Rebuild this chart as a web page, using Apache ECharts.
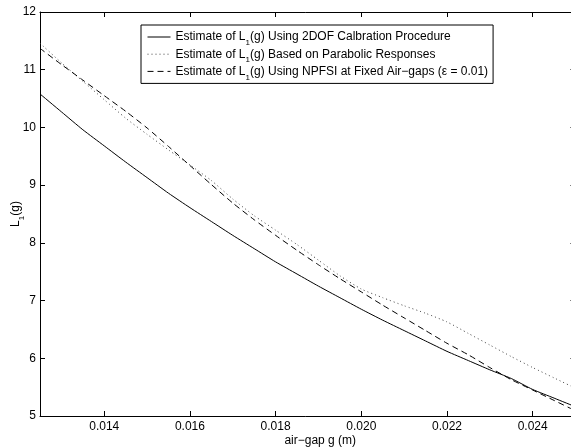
<!DOCTYPE html>
<html>
<head>
<meta charset="utf-8">
<script src="https://cdn.jsdelivr.net/npm/echarts@6/dist/echarts.min.js"></script>
<style>
html,body{margin:0;padding:0;background:#fff;}
#chart{width:571px;height:447px;}
</style>
</head>
<body>
<div id="chart"></div>
<script>
var xValues = [0.0125,0.0130,0.0135,0.0140,0.0145,0.0150,0.0155,0.0160,0.0165,0.0170,0.0175,0.0180,0.0185,0.0190,0.0195,0.0200,0.0205,0.0210,0.0215,0.0220,0.0225,0.0230,0.0235,0.0240,0.0245,0.0250];
var solid2DOF = [10.58,10.27,9.96,9.68,9.40,9.13,8.86,8.61,8.37,8.13,7.90,7.67,7.46,7.25,7.05,6.85,6.66,6.48,6.30,6.12,5.96,5.80,5.65,5.46,5.31,5.16];
var dottedParabolic = [11.46,11.12,10.80,10.48,10.16,9.88,9.61,9.35,9.08,8.76,8.47,8.22,7.97,7.70,7.43,7.20,7.05,6.91,6.78,6.63,6.43,6.23,6.03,5.84,5.66,5.48];
var dashedNPFSI = [11.37,11.09,10.82,10.55,10.28,9.99,9.67,9.34,9.01,8.69,8.40,8.13,7.87,7.62,7.38,7.15,6.92,6.70,6.48,6.26,6.06,5.84,5.63,5.45,5.27,5.09];
var seriesNames = ['2DOF','Parabolic','NPFSI'];
var legendTexts = {
  '2DOF': '{t|Estimate of L}{s|1}{t|(g) Using 2DOF Calbration Procedure}',
  'Parabolic': '{t|Estimate of L}{s|1}{t|(g) Based on Parabolic Responses}',
  'NPFSI': '{t|Estimate of L}{s|1}{t|(g) Using NPFSI at Fixed Air\u2212gaps (\u03b5 = 0.01)}'
};
var xLabelStep = 0.002;

function pairs(ys){ return xValues.map(function(x,i){ return [x, ys[i]]; }); }

var FONT = 'Liberation Sans, Arial, Helvetica, sans-serif';
var chart = echarts.init(document.getElementById('chart'), null, {renderer:'canvas'});
var axisLineStyle = {color:'#000', width:1};
var option = {
  animation:false,
  backgroundColor:'#fff',
  textStyle:{fontFamily:FONT},
  grid:{left:40, top:12, right:-4.5, bottom:31, containLabel:false, outerBoundsMode:'none'},
  legend:{
    data:seriesNames,
    orient:'vertical',
    left:141, top:25,
    backgroundColor:'#fff',
    borderColor:'#000', borderWidth:1, borderRadius:0,
    padding:[6,5,2,6],
    itemWidth:23, itemHeight:10, itemGap:1.2,
    itemStyle:{opacity:0},
    lineStyle:{width:1},
    formatter:function(n){ return legendTexts[n]; },
    textStyle:{
      fontFamily:FONT, color:'#000',
      rich:{
        t:{fontSize:12, fontFamily:FONT, color:'#000', lineHeight:14, verticalAlign:'middle'},
        s:{fontSize:8, fontFamily:FONT, color:'#000', lineHeight:14, verticalAlign:'bottom', padding:[0,0,-3,0]}
      }
    }
  },
  xAxis:[{
    type:'value', min:0.0125, max:0.025, splitNumber:6, position:'bottom',
    axisLine:{show:true, onZero:false, lineStyle:axisLineStyle},
    axisTick:{show:true, inside:true, length:5, lineStyle:axisLineStyle},
    splitLine:{show:false},
    axisLabel:{color:'#000', fontSize:12, fontFamily:FONT, margin:5,
      showMinLabel:false, showMaxLabel:false,
      formatter:function(v){ var r=v/xLabelStep; return Math.abs(r-Math.round(r))<1e-6 ? v.toFixed(3) : ''; }},
    name:'air\u2212gap g (m)', nameLocation:'middle', nameGap:19, nameMoveOverlap:false,
    nameTextStyle:{color:'#000', fontSize:12, fontFamily:FONT, padding:[0,0,0,25]}
  },{
    type:'value', min:0.0125, max:0.025, splitNumber:6, position:'top',
    axisLine:{show:true, onZero:false, lineStyle:axisLineStyle},
    axisTick:{show:true, inside:true, length:5, lineStyle:axisLineStyle},
    axisLabel:{show:false}, splitLine:{show:false}
  }],
  yAxis:[{
    type:'value', min:5, max:12, interval:1, position:'left',
    axisLine:{show:true, onZero:false, lineStyle:axisLineStyle},
    axisTick:{show:true, inside:true, length:5, lineStyle:axisLineStyle},
    splitLine:{show:false},
    axisLabel:{color:'#000', fontSize:12, fontFamily:FONT, margin:4},
    name:'{t|L}{s|1}{t|(g)}', nameLocation:'middle', nameRotate:90, nameGap:17, nameMoveOverlap:false,
    nameTextStyle:{color:'#000', fontFamily:FONT,
      rich:{
        t:{fontSize:12, fontFamily:FONT, color:'#000', lineHeight:14, verticalAlign:'middle'},
        s:{fontSize:8, fontFamily:FONT, color:'#000', lineHeight:14, verticalAlign:'bottom', padding:[0,0,-3,0]}
      }}
  },{
    type:'value', min:5, max:12, interval:1, position:'right',
    axisLine:{show:true, onZero:false, lineStyle:axisLineStyle},
    axisTick:{show:true, inside:true, length:5, lineStyle:axisLineStyle},
    axisLabel:{show:false}, splitLine:{show:false}
  }],
  series:[{
    name:'2DOF', type:'line', data:pairs(solid2DOF), showSymbol:false, symbol:'none',
    smooth:0.2, lineStyle:{color:'#000', width:1, type:'solid'}, itemStyle:{color:'#000'}
  },{
    name:'Parabolic', type:'line', data:pairs(dottedParabolic), showSymbol:false, symbol:'none',
    smooth:0.2, lineStyle:{color:'#444', width:1, type:[1,3]}, itemStyle:{color:'#444'}
  },{
    name:'NPFSI', type:'line', data:pairs(dashedNPFSI), showSymbol:false, symbol:'none',
    smooth:0.2, lineStyle:{color:'#000', width:1, type:[6,4]}, itemStyle:{color:'#000'}
  }]
};
chart.setOption(option);
</script>
</body>
</html>
